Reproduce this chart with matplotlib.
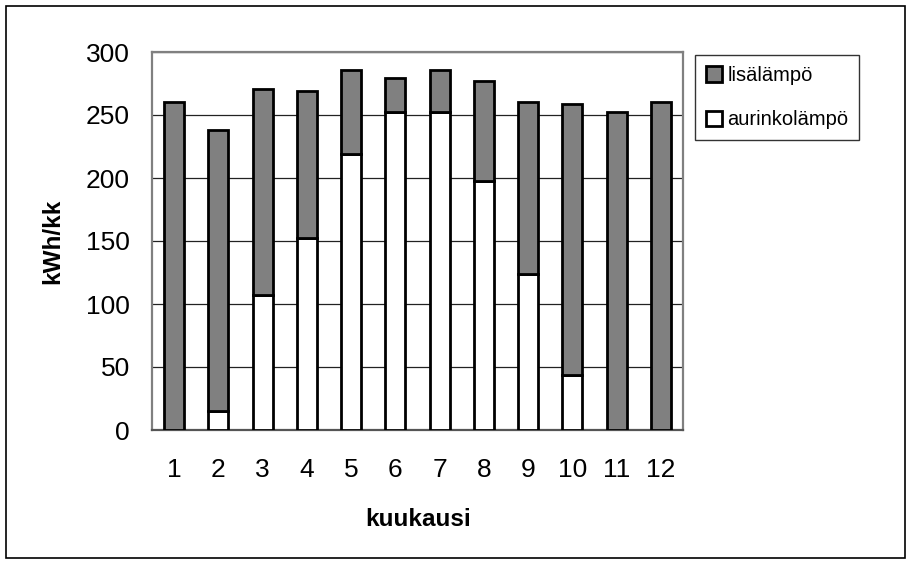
import numpy as np
import matplotlib.pyplot as plt
from matplotlib.patches import Rectangle

plt.rcParams['font.family'] = ['Liberation Sans', 'DejaVu Sans']

months = ['1', '2', '3', '4', '5', '6', '7', '8', '9', '10', '11', '12']
total = [260, 238, 271, 269, 286, 279, 286, 277, 260, 259, 252, 260]
aurinko = [0, 15, 107, 152, 219, 252, 252, 198, 124, 44, 0, 0]
lisa = [t - a for t, a in zip(total, aurinko)]

W, H = 912, 565
fig = plt.figure(figsize=(W / 100, H / 100), dpi=100)
ax = fig.add_axes([152 / W, 1 - 430 / H, (683 - 152) / W, (430 - 52) / H])

x = np.arange(len(months))
bw = 0.45
ax.bar(x, aurinko, bw, color='white', edgecolor='black', linewidth=2.0,
       label='aurinkolämpö', zorder=3)
ax.bar(x, lisa, bw, bottom=aurinko, color='#808080', edgecolor='black',
       linewidth=2.0, label='lisälämpö', zorder=3)

ax.set_xlim(-0.5, len(months) - 0.5)
ax.set_ylim(0, 300)
ax.set_yticks(range(0, 301, 50))
ax.set_xticks(x)
ax.set_xticklabels(months)
ax.tick_params(axis='both', labelsize=19, length=0)
ax.tick_params(axis='y', pad=16)
ax.tick_params(axis='x', pad=20)
ax.yaxis.grid(True, color='#222222', linewidth=0.9, zorder=0)
for s in ax.spines.values():
    s.set_color('#808080')
    s.set_linewidth(1.6)
ax.spines['bottom'].set_color('#555555')

fig.text(53 / W, 1 - 241 / H, 'kWh/kk', rotation=90, ha='center', va='center',
         fontsize=17.5, fontweight='bold')
fig.text(418 / W, 1 - 520 / H, 'kuukausi', ha='center', va='center',
         fontsize=17.5, fontweight='bold')

h, l = ax.get_legend_handles_labels()
leg = fig.legend(h[::-1], l[::-1], loc='upper left',
                 bbox_to_anchor=(695 / W, 1 - 55 / H), fontsize=14.5,
                 frameon=True, fancybox=False, edgecolor='black',
                 handlelength=0.8, handleheight=0.8, handletextpad=0.25,
                 borderpad=0.55, labelspacing=1.25, borderaxespad=0)
leg.get_frame().set_linewidth(1.0)

# outer border around the whole chart
fig.patches.append(Rectangle((6 / W, 7 / H), (905 - 6) / W, (559 - 7) / H,
                             transform=fig.transFigure, fill=False,
                             edgecolor='black', linewidth=1.2))

fig.savefig('out.png', dpi=100)
